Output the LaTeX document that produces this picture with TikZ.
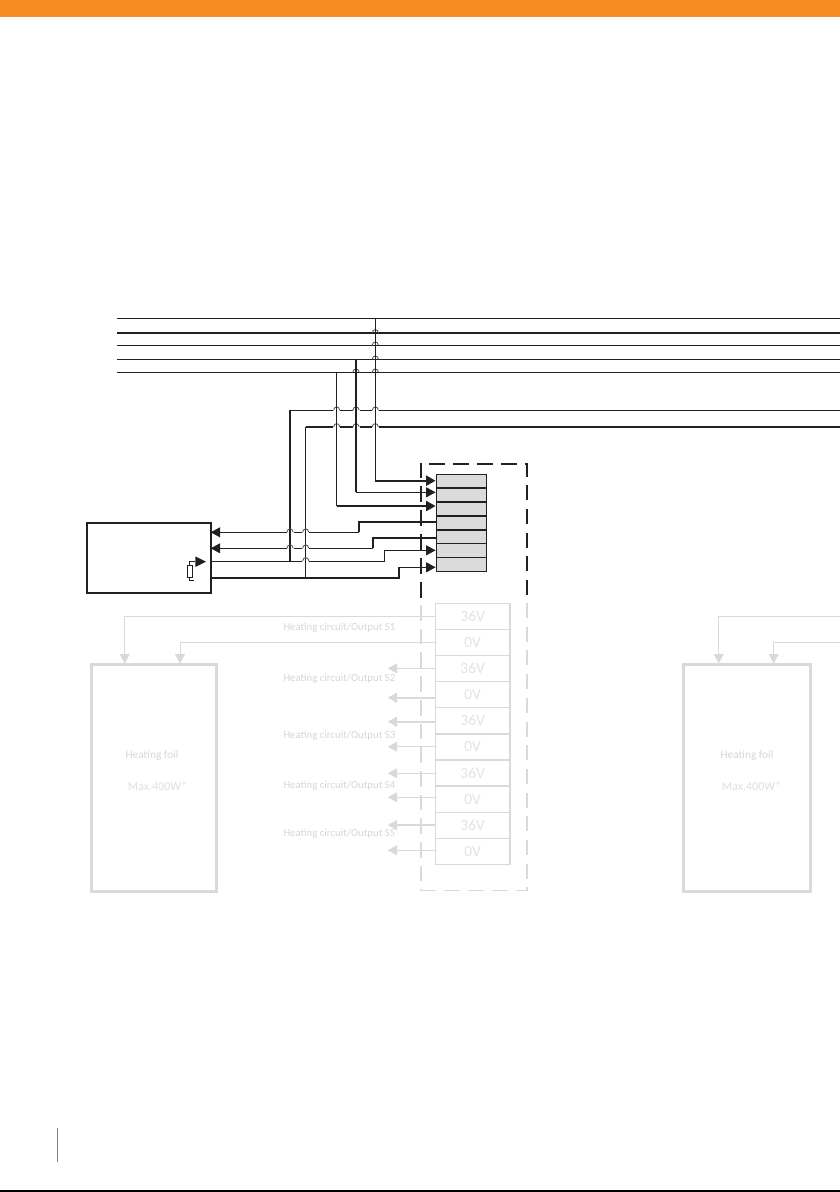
\documentclass[tikz,border=0pt]{standalone}
\usepackage{fontspec}
\setmainfont{Carlito}
\usetikzlibrary{arrows.meta}
\definecolor{ink}{HTML}{231F20}
\definecolor{pale}{HTML}{D9D9D9}
\definecolor{paletext}{HTML}{D6D6D6}
\definecolor{bar}{HTML}{F68B1F}
\newcommand{\hump}[2]{
	\draw[hopline] (#1-3.2,#2) .. controls (#1-2.5,#2-4.5) and (#1+2.5,#2-4.5) .. (#1+3.2,#2);
}
\newcommand{\hop}[3][wire]{
	\fill[white] (#2-3.5,#3-1.6) rectangle (#2+3.5,#3+1.6);
	\draw[#1] (#2,#3-2) -- (#2,#3+2);
	\hump{#2}{#3}
}
\begin{document}
\begin{tikzpicture}[x=1pt,y=-1pt,
	wire/.style={draw=ink,line width=1pt},
	mid/.style={draw=ink,line width=1.7pt},
	heavy/.style={draw=ink,line width=2pt},
	hopline/.style={draw=ink!80,line width=.8pt},
	tip/.style={-{Triangle[length=9.5pt,width=10pt]}},
	slot/.style={draw=ink,fill=black!14,line width=.8pt,minimum width=50pt,minimum height=13.86pt,inner sep=0pt,outer sep=0pt},
	cell/.style={draw=pale,line width=1pt,minimum width=74.6pt,minimum height=26.1pt,inner sep=0pt,outer sep=0pt,text=paletext!70,font=\fontsize{15.5}{17}\selectfont},
	foil/.style={draw=pale,line width=3pt,minimum height=226.3pt,inner sep=0pt,outer sep=0pt},
	faint/.style={draw=pale,line width=1pt},
	faintheavy/.style={draw=pale,line width=2pt},
	note/.style={text=paletext,inner sep=0pt,font=\fontsize{10.8}{12}\selectfont},
	limit/.style={text=paletext!80,inner sep=0pt,font=\fontsize{12}{13}\selectfont}]
	\useasboundingbox (0,0) rectangle (840,1192);
	\fill[bar] (0,0) rectangle (840,17);
	\draw[black,line width=1.4pt] (0,1191) -- (840,1191);
	\draw[black!50,line width=1pt] (57.3,1128) -- (57.3,1161.7);

	\node[draw=ink,line width=2pt,minimum width=124pt,minimum height=70.3pt,inner sep=0pt,outer sep=0pt] (ctrl) at (148.7,557.8) {};
	\foreach \i/\y in {1/481.23,2/495.09,3/508.95,4/522.81,5/536.67,6/550.53,7/564.39}
		\node[slot] (t\i) at (461.3,\y) {};
	\foreach \i in {1,...,6}
		\draw[mid] (t\i.south west) -- (t\i.south east);
	\foreach \i/\y in {1/480.7,2/492.3,3/506,4/521.7,5/537.9,6/550.3,7/567.3}
		\coordinate (p\i) at (435.6,\y);

	\foreach \n/\y/\s in {a/318.3/wire,b/333/heavy,c/345.3/wire,d/359.3/wire,e/372.3/wire}
		\draw[\s] (117,\y) coordinate (\n0) -- (840,\y) coordinate (\n1);

	\coordinate (x1) at (375.3,318.3);
	\coordinate (x2) at (356,359.3);
	\coordinate (x3) at (336.7,372.3);
	\coordinate (j1) at (290,561);
	\coordinate (j2) at (305.7,577.7);
	\coordinate (f) at (840,410.3);
	\coordinate (g) at (840,427);
	\draw[wire] (290,410.3) -- (f);
	\draw[heavy] (305.7,427) -- (g);
	\draw[heavy] (j1) -- (290,410.3);
	\draw[wire] (j2) -- (305.7,427);

	\draw[mid] (p4) ++(-44,0) coordinate (m4) (m4) -- (t4.west |- p4);
	\draw[heavy] (m4) -| (358.7,532.3) coordinate (n4);
	\draw[wire,tip] (n4) -- (ctrl.east |- n4);
	\draw[mid] (p5) ++(-44,0) coordinate (m5) (m5) -- (t5.west |- p5);
	\draw[heavy] (m5) -| (372.7,548.3) coordinate (n5);
	\draw[wire,tip] (n5) -- (ctrl.east |- n5);
	\draw[wire,tip] (ctrl.east |- j1) -| (384.3,550.3) -- (p6);
	\draw[heavy] (ctrl.east |- j2) -| (399,567.3) coordinate (n7);
	\draw[wire,tip] (n7) -- (p7);

	\foreach \x in {336.7,375.3} {
		\hop{\x}{410.3}
		\hop{\x}{427}
	}
	\hop[heavy]{356}{410.3}
	\hop[heavy]{356}{427}
	\foreach \y in {333,345.3,359.3,372.3} {
		\hump{375.3}{\y}
	}
	\hump{356}{372.3}
	\hop[heavy]{290}{532.3}
	\hop[heavy]{290}{548.3}
	\hop{305.7}{532.3}
	\hop{305.7}{548.3}
	\hop{305.7}{561}

	\draw[wire] (x1) -- (375.3,480.7);
	\draw[heavy] (x2) -- (356,492.3);
	\draw[wire] (x3) -- (336.7,506);
	\draw[heavy,tip] (375.3,480.7) -- (p1);
	\draw[wire,tip] (356,492.3) -- (p2);
	\draw[heavy,tip] (336.7,506) -- (p3);

	\fill[ink] (206,561.7) coordinate (r1) -- (195.3,556.4) -- (195.3,567) -- cycle;
	\draw[ink,line width=.7pt] (195.3,561.7) -| (189.7,565.7);
	\node[draw=ink,line width=1pt,fill=white,minimum width=4.7pt,minimum height=11.3pt,inner sep=0pt,outer sep=0pt] (r) at (189.7,571.4) {};
	\draw[ink,line width=.7pt] (r.south) |- (194,580.3);

	\draw[ink,line width=2pt,dash pattern=on 16pt off 8pt] (421,598) -- (421,463);
	\draw[ink,line width=2pt,dash pattern=on 16pt off 8pt] (429,463.7) -- (527.7,463.7);
	\draw[ink,line width=2pt,dash pattern=on 15pt off 8.7pt] (526.7,595) -- (526.7,463);

	\draw[pale,line width=2pt,dash pattern=on 15.7pt off 8pt] (421,605) -- (421,890.7);
	\draw[pale,line width=1.2pt,dash pattern=on 16pt off 8pt] (420,890.7) -- (527.4,890.7);
	\draw[pale,line width=2pt,dash pattern=on 15pt off 8.7pt] (526.7,603) -- (526.7,890.7);

	\foreach \i/\t [evaluate=\i as \y using 616.35+(\i-1)*26.1] in {1/36V,2/0V,3/36V,4/0V,5/36V,6/0V,7/36V,8/0V,9/36V,10/0V}
		\node[cell] (h\i) at (472.7,\y) {\t};
	\draw[faintheavy] (h1.north east) -- (h10.south east);
	\foreach \i in {5,6,7}
		\draw[faintheavy] (h\i.south west) -- (h\i.south east);

	\node[foil,minimum width=125.3pt] (l) at (153.7,778.1) {};
	\node[foil,minimum width=126.5pt] (k) at (747.2,778.1) {};
	\node[note,font=\fontsize{11.4}{12}\selectfont] (l1) at (152,756) {Heating foil};
	\node[limit] (l2) at (157.5,786) {Max.400W*};
	\node[note,font=\fontsize{11.4}{12}\selectfont] (k1) at (747,756) {Heating foil};
	\node[limit] (k2) at (751.5,786) {Max.400W*};

	\coordinate (u1) at (124.7,663.5);
	\coordinate (u2) at (180,663.5);
	\coordinate (v1) at (718.7,663.5);
	\coordinate (v2) at (773.7,663.5);
	\coordinate (w1) at (840,616);
	\coordinate (w2) at (840,642.3);
	\draw[faint,tip] (h1.west |- 0,616.7) -| (u1);
	\draw[faint,tip] (h2.west |- 0,642.3) -| (u2);
	\draw[faint,tip] (w1) -| (v1);
	\draw[faint,tip] (w2) -| (v2);
	\foreach \i/\y/\s in {3/668.3/faint,4/697.7/faintheavy,5/721.7/faintheavy,6/746.7/faint,7/773.3/faint,8/797.3/faint,9/825/faintheavy,10/850.3/faint}
		\draw[\s,tip] (h\i.west |- 0,\y) -- (387.7,\y);

	\foreach \i/\y in {1/628,2/678.4,3/735.7,4/785.7,5/834}
		\node[note,anchor=west] (s\i) at (283.3,\y) {Heating circuit/Output S\i};
\end{tikzpicture}
\end{document}
